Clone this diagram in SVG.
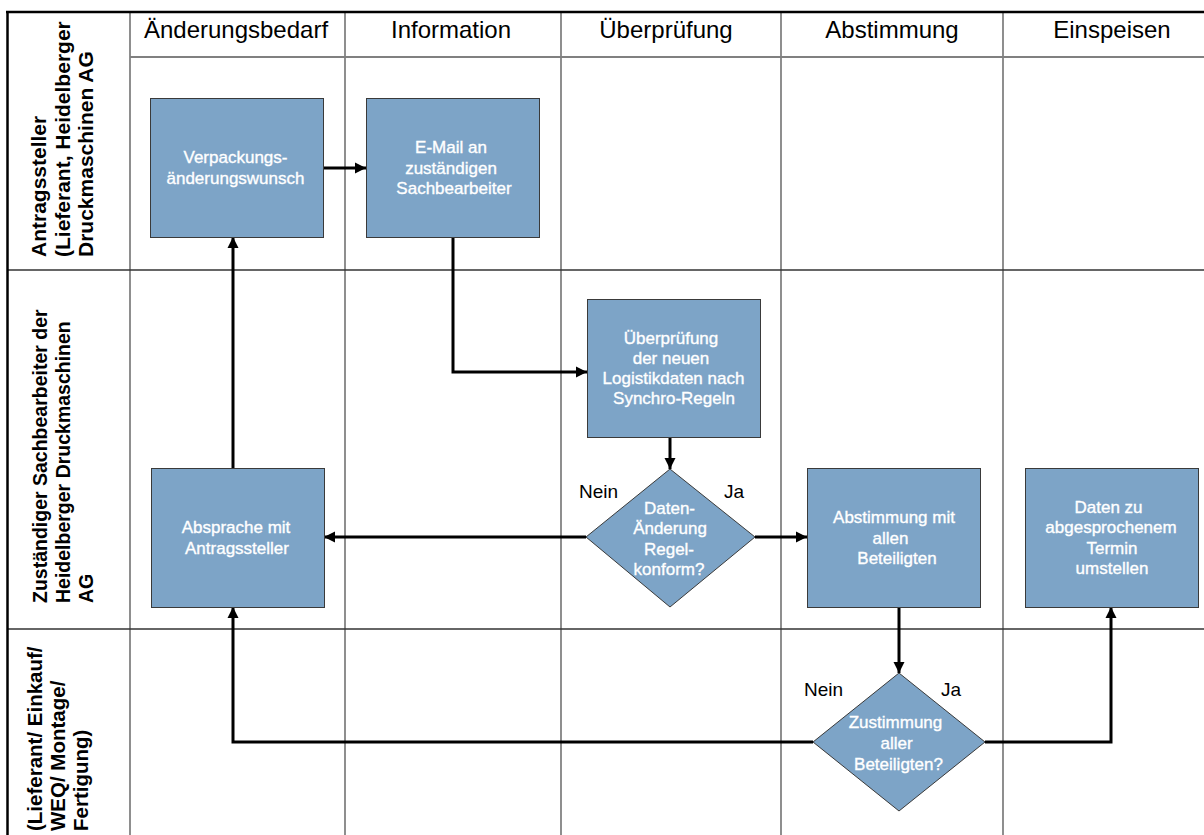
<svg xmlns="http://www.w3.org/2000/svg" width="1204" height="835" viewBox="0 0 1204 835">
  <style>
    .hdr { font-family: "Liberation Sans", Arial, sans-serif; font-size: 24px; fill: #000; text-anchor: middle; }
    .lane { font-family: "Liberation Sans", Arial, sans-serif; font-size: 21px; font-weight: bold; fill: #000; }
    .lane2 { font-size: 19.5px; }
    .lane3 { font-size: 20.5px; }
    .box { fill: #7DA4C7; stroke: #3A3A3A; stroke-width: 1; }
    .bt { font-family: "Liberation Sans", Arial, sans-serif; font-size: 17px; fill: #FFFFFF; stroke: #FFFFFF; stroke-width: 0.35; text-anchor: middle; }
    .lbl { font-family: "Liberation Sans", Arial, sans-serif; font-size: 19px; fill: #000; }
    .col { stroke: #444; stroke-width: 1.2; fill: none; }
    .row { stroke: #333; stroke-width: 1.4; fill: none; }
    .conn { stroke: #000; stroke-width: 3; fill: none; }
  </style>
  <defs>
    <marker id="arr" markerUnits="userSpaceOnUse" markerWidth="12" markerHeight="12" refX="11" refY="6" orient="auto">
      <path d="M0,0.5 L11,6 L0,11.5 Z" fill="#000"/>
    </marker>
  </defs>
  <rect x="0" y="0" width="1204" height="835" fill="#FFFFFF"/>

  <g id="grid">
    <line class="col" x1="130" y1="12" x2="130" y2="835"/>
    <line class="col" x1="345" y1="12" x2="345" y2="835"/>
    <line class="col" x1="561" y1="12" x2="561" y2="835"/>
    <line class="col" x1="781" y1="12" x2="781" y2="835"/>
    <line class="col" x1="1003" y1="12" x2="1003" y2="835"/>
    <line x1="130" y1="57" x2="1204" y2="57" stroke="#808080" stroke-width="2"/>
    <line class="row" x1="7" y1="270" x2="1204" y2="270"/>
    <line class="row" x1="7" y1="629" x2="1204" y2="629"/>
    <line x1="6" y1="12" x2="1204" y2="12" stroke="#000" stroke-width="2.5"/>
    <line x1="7.5" y1="11" x2="7.5" y2="835" stroke="#000" stroke-width="2.5"/>
  </g>

  <g id="headers">
    <text class="hdr" x="236" y="38">Änderungsbedarf</text>
    <text class="hdr" x="451" y="38">Information</text>
    <text class="hdr" x="666" y="38">Überprüfung</text>
    <text class="hdr" x="892" y="38">Abstimmung</text>
    <text class="hdr" x="1112" y="38">Einspeisen</text>
  </g>

  <g id="lanes">
    <g id="lane1" transform="rotate(-90)">
      <text class="lane" x="-257" y="46">Antragssteller</text>
      <text class="lane" x="-257" y="69.5">(Lieferant, Heidelberger</text>
      <text class="lane" x="-257" y="93">Druckmaschinen AG</text>
    </g>
    <g id="lane2" transform="rotate(-90)">
      <text class="lane lane2" x="-603" y="47">Zuständiger Sachbearbeiter der</text>
      <text class="lane lane2" x="-603" y="70">Heidelberger Druckmaschinen</text>
      <text class="lane lane2" x="-603" y="93">AG</text>
    </g>
    <g id="lane3" transform="rotate(-90)">
      <text class="lane lane3" x="-831" y="42">(Lieferant/ Einkauf/</text>
      <text class="lane lane3" x="-831" y="65">WEQ/ Montage/</text>
      <text class="lane lane3" x="-831" y="88">Fertigung)</text>
    </g>
  </g>

  <g id="connectors">
    <path class="conn" d="M323,168 H366" marker-end="url(#arr)"/>
    <path class="conn" d="M453,237 V372 H587" marker-end="url(#arr)"/>
    <path class="conn" d="M670,437 V469" marker-end="url(#arr)"/>
    <path class="conn" d="M586,537 H324" marker-end="url(#arr)"/>
    <path class="conn" d="M755,537 H807" marker-end="url(#arr)"/>
    <path class="conn" d="M233,468 V237" marker-end="url(#arr)"/>
    <path class="conn" d="M899,607 V673" marker-end="url(#arr)"/>
    <path class="conn" d="M813,742 H233 V607" marker-end="url(#arr)"/>
    <path class="conn" d="M985,742 H1111 V607" marker-end="url(#arr)"/>
  </g>

  <g id="n_verpackung">
    <rect class="box" x="150.5" y="98.5" width="173" height="139"/>
    <text class="bt" x="235.5" y="163">Verpackungs-</text>
    <text class="bt" x="235.5" y="184">änderungswunsch</text>
  </g>
  <g id="n_email">
    <rect class="box" x="366.5" y="98.5" width="173" height="139"/>
    <text class="bt" x="451" y="153">E-Mail an</text>
    <text class="bt" x="451" y="173.5">zuständigen</text>
    <text class="bt" x="454" y="194">Sachbearbeiter</text>
  </g>
  <g id="n_pruefung">
    <rect class="box" x="587.5" y="299.5" width="173" height="138"/>
    <text class="bt" x="671" y="344">Überprüfung</text>
    <text class="bt" x="671" y="364">der neuen</text>
    <text class="bt" x="673.5" y="384">Logistikdaten nach</text>
    <text class="bt" x="674" y="404">Synchro-Regeln</text>
  </g>
  <g id="n_entscheid1">
    <polygon class="box" points="670,469 755,537 670,607 586,537"/>
    <text class="bt" x="669.5" y="513.5">Daten-</text>
    <text class="bt" x="670" y="534">Änderung</text>
    <text class="bt" x="669" y="554.5">Regel-</text>
    <text class="bt" x="669" y="575">konform?</text>
  </g>
  <g id="n_absprache">
    <rect class="box" x="151.5" y="468.5" width="173" height="139"/>
    <text class="bt" x="236" y="533">Absprache mit</text>
    <text class="bt" x="237" y="553.5">Antragssteller</text>
  </g>
  <g id="n_abstimmung">
    <rect class="box" x="807.5" y="468.5" width="173" height="139"/>
    <text class="bt" x="894" y="523">Abstimmung mit</text>
    <text class="bt" x="890.5" y="543.5">allen</text>
    <text class="bt" x="897" y="563.5">Beteiligten</text>
  </g>
  <g id="n_daten">
    <rect class="box" x="1025.5" y="468.5" width="173" height="139"/>
    <text class="bt" x="1108.5" y="513">Daten zu</text>
    <text class="bt" x="1111" y="533">abgesprochenem</text>
    <text class="bt" x="1112" y="553.5">Termin</text>
    <text class="bt" x="1112" y="573.5">umstellen</text>
  </g>
  <g id="n_entscheid2">
    <polygon class="box" points="899,673 985,742 899,811 813,742"/>
    <text class="bt" x="895.5" y="728">Zustimmung</text>
    <text class="bt" x="896.5" y="749">aller</text>
    <text class="bt" x="898.5" y="769.5">Beteiligten?</text>
  </g>

  <g id="labels">
    <text class="lbl" x="579" y="498">Nein</text>
    <text class="lbl" x="724" y="498">Ja</text>
    <text class="lbl" x="804" y="696">Nein</text>
    <text class="lbl" x="941" y="696">Ja</text>
  </g>
</svg>
